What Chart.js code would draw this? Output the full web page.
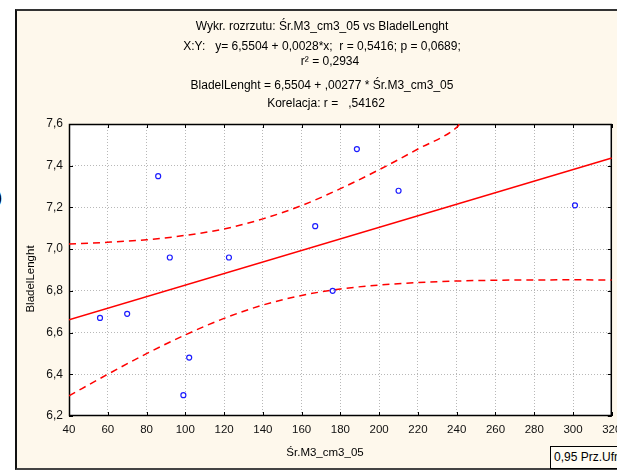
<!DOCTYPE html>
<html>
<head>
<meta charset="utf-8">
<script src="https://cdn.jsdelivr.net/npm/chart.js@4/dist/chart.umd.min.js"></script>
<style>
  html, body { margin: 0; padding: 0; background: #fff; width: 617px; height: 470px; overflow: hidden; position: relative;
    font-family: "Liberation Sans", Arial, sans-serif; }
  #frame { position: absolute; left: 15px; top: 9px; width: 610px; height: 457px; background: #fef8ec;
    border-left: 2px solid #111; border-top: 2px solid #333; border-bottom: 2px solid #444; }
  #paren { position: absolute; left: -4px; top: 186px; font-size: 19px; color: #000; }
  #conf { position: absolute; left: 550px; top: 446px; width: 90px; height: 21px; border: 1px solid #000;
    background: #fffcf4; font-size: 12px; line-height: 21px; padding-left: 3px; white-space: nowrap; color: #000; }
  canvas { position: absolute; left: 0; top: 0; }
</style>
</head>
<body>
<div id="frame"></div>
<div id="paren">)</div>
<canvas id="c" width="617" height="470"></canvas>
<div id="conf">0,95 Prz.Ufn.</div>
<script>
// Observations: Śr.M3_cm3_05 (x) against BladelLenght (y)
const obsX = [56, 70, 86, 92, 99, 102, 122.5, 167, 176, 188.5, 210, 301];
const obsY = [6.67, 6.69, 7.35, 6.96, 6.30, 6.48, 6.96, 7.11, 6.80, 7.48, 7.28, 7.21];

// Fitted line stated in the header: y = 6,5504 + 0,00277 * x
const INTERCEPT = 6.5504;
const SLOPE = 0.00277;
const fitX = [40, 320];

// 0,95 confidence band (upper leaves the plot at the top edge)
const upperX = [40, 60, 80, 100, 120, 140, 160, 180, 200, 220, 240, 241.5];
const upperY = [7.025, 7.033, 7.045, 7.066, 7.097, 7.145, 7.209, 7.290, 7.381, 7.480, 7.584, 7.6];
const lowerX = [40, 60, 80, 100, 120, 140, 160, 180, 200, 220, 240, 260, 280, 300, 320];
const lowerY = [6.297, 6.400, 6.499, 6.589, 6.668, 6.732, 6.778, 6.809, 6.828, 6.840, 6.847, 6.851, 6.852, 6.853, 6.852];

// Axis ranges / ticks
const X_MIN = 40, X_MAX = 320, X_STEP = 20;
const Y_MIN = 6.2, Y_MAX = 7.6, Y_STEP = 0.2;

const headerLines = [
  { text: 'Wykr. rozrzutu: Śr.M3_cm3_05 vs BladelLenght', x: 322, y: 27 },
  { text: 'X:Y:   y= 6,5504 + 0,0028*x;  r = 0,5416; p = 0,0689;', x: 322, y: 47 },
  { text: 'r² = 0,2934', x: 330, y: 62 },
  { text: 'BladelLenght = 6,5504 + ,00277 * Śr.M3_cm3_05', x: 322, y: 86 },
  { text: 'Korelacja: r =   ,54162', x: 326, y: 104 }
];
const xTitle = 'Śr.M3_cm3_05';
const yTitle = 'BladelLenght';

const xy = (xs, ys) => xs.map((x, i) => ({ x: x, y: ys[i] }));
const fitData = fitX.map(x => ({ x: x, y: INTERCEPT + SLOPE * x }));

Chart.defaults.font.family = '"Liberation Sans", Arial, sans-serif';
Chart.defaults.font.size = 11;
Chart.defaults.color = '#111';

const decorations = {
  id: 'decorations',
  beforeDraw(chart) {
    const a = chart.chartArea, ctx = chart.ctx;
    ctx.save();
    ctx.fillStyle = '#ffffff';
    ctx.fillRect(a.left, a.top, a.right - a.left, a.bottom - a.top);
    ctx.restore();
  },
  beforeDatasetsDraw(chart) {
    const a = chart.chartArea, ctx = chart.ctx;
    const xs = chart.scales.x, ys = chart.scales.y;
    ctx.save();
    ctx.strokeStyle = '#000';
    ctx.lineWidth = 1;
    ctx.beginPath();
    // inward tick marks on all four sides
    xs.ticks.forEach(t => {
      const px = Math.round(xs.getPixelForValue(t.value)) + 0.5;
      ctx.moveTo(px, a.bottom); ctx.lineTo(px, a.bottom - 4);
      ctx.moveTo(px, a.top); ctx.lineTo(px, a.top + 4);
    });
    ys.ticks.forEach(t => {
      const py = Math.round(ys.getPixelForValue(t.value)) + 0.5;
      ctx.moveTo(a.left, py); ctx.lineTo(a.left + 4, py);
      ctx.moveTo(a.right, py); ctx.lineTo(a.right - 4, py);
    });
    ctx.stroke();
    ctx.lineWidth = 1.5;
    ctx.strokeRect(a.left + 0.5, a.top + 0.5, a.right - a.left - 1, a.bottom - a.top - 1);
    ctx.restore();
  },
  afterDraw(chart) {
    const ctx = chart.ctx;
    ctx.save();
    ctx.fillStyle = '#000';
    ctx.font = '12px "Liberation Sans", Arial, sans-serif';
    ctx.textAlign = 'center';
    ctx.textBaseline = 'middle';
    headerLines.forEach(l => ctx.fillText(l.text, l.x, l.y));
    ctx.font = '11.5px "Liberation Sans", Arial, sans-serif';
    ctx.fillText(xTitle, 325, 453);
    ctx.translate(31, 279);
    ctx.rotate(-Math.PI / 2);
    ctx.fillText(yTitle, 0, 0);
    ctx.restore();
  }
};

const gridColor = (min, max) => (c) => {
  const v = c.tick ? c.tick.value : null;
  if (v === null || Math.abs(v - min) < 1e-6 || Math.abs(v - max) < 1e-6) return 'rgba(0,0,0,0)';
  return '#b8b8b8';
};

new Chart(document.getElementById('c'), {
  type: 'scatter',
  data: {
    datasets: [
      {
        label: 'obs', data: xy(obsX, obsY), showLine: false,
        pointStyle: 'circle', pointRadius: 2.5, pointBorderWidth: 1.2,
        borderColor: '#1c1cff', backgroundColor: 'rgba(0,0,0,0)'
      },
      {
        label: 'fit', data: fitData, showLine: true, pointRadius: 0,
        borderColor: '#ff0000', borderWidth: 1.5
      },
      {
        label: 'upper', data: xy(upperX, upperY), showLine: true, pointRadius: 0,
        borderColor: '#ff0000', borderWidth: 1.5, borderDash: [7, 5], cubicInterpolationMode: 'monotone'
      },
      {
        label: 'lower', data: xy(lowerX, lowerY), showLine: true, pointRadius: 0,
        borderColor: '#ff0000', borderWidth: 1.5, borderDash: [7, 5], cubicInterpolationMode: 'monotone'
      }
    ]
  },
  options: {
    responsive: false,
    animation: false,
    devicePixelRatio: 1,
    layout: { padding: { left: 0, top: 124, right: 5, bottom: 0 } },
    plugins: { legend: { display: false }, tooltip: { enabled: false }, title: { display: false } },
    scales: {
      x: {
        type: 'linear', min: X_MIN, max: X_MAX,
        ticks: { stepSize: X_STEP, autoSkip: false, maxRotation: 0, padding: 7, color: '#111',
          font: { size: 11.5 }, callback: v => String(v) },
        grid: { drawTicks: false, color: gridColor(X_MIN, X_MAX), lineWidth: 1 },
        border: { display: false, dash: [1, 2] },
        afterFit: s => { s.height = 54; s.paddingLeft = 0; s.paddingRight = 0; }
      },
      y: {
        type: 'linear', min: Y_MIN, max: Y_MAX,
        ticks: { stepSize: Y_STEP, autoSkip: false, padding: 6, color: '#111',
          font: { size: 12 }, callback: v => v.toFixed(1).replace('.', ',') },
        grid: { drawTicks: false, color: gridColor(Y_MIN, Y_MAX), lineWidth: 1 },
        border: { display: false, dash: [1, 2] },
        afterFit: s => { s.width = 69; s.paddingTop = 0; s.paddingBottom = 0; }
      }
    }
  },
  plugins: [decorations]
});
</script>
</body>
</html>
